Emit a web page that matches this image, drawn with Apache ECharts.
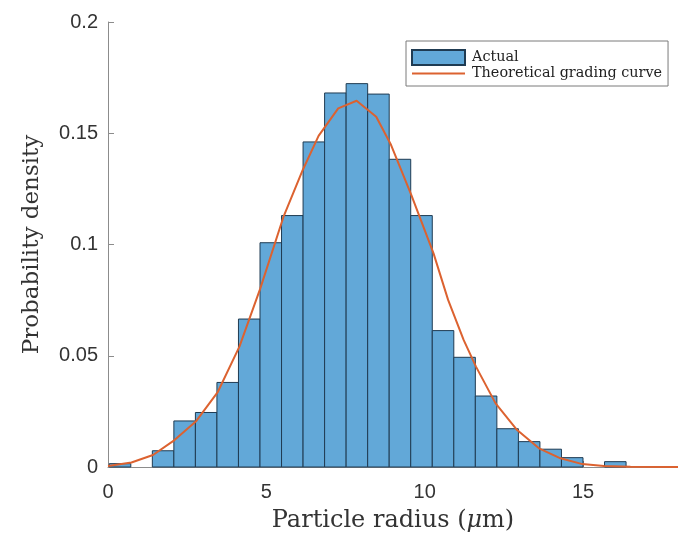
<!DOCTYPE html>
<html>
<head>
<meta charset="utf-8">
<script src="https://cdn.jsdelivr.net/npm/echarts@6/dist/echarts.min.js"></script>
<style>
  html, body { margin: 0; padding: 0; background: #fff; }
  #chart { width: 678px; height: 540px; }
</style>
</head>
<body>
<div id="chart"></div>
<script>
// Histogram bin edges (µm) and densities
const binEdges = [0.04, 0.72, 1.40, 2.08, 2.76, 3.44, 4.12, 4.80, 5.48, 6.16, 6.84, 7.52, 8.20,
                  8.88, 9.56, 10.24, 10.92, 11.60, 12.28, 12.96, 13.64, 14.32, 15.00, 15.68, 16.36];
const binDensity = [0.0015, 0, 0.0073, 0.0207, 0.0245, 0.038, 0.0665, 0.1008, 0.113, 0.1461, 0.1681, 0.1723,
                    0.1676, 0.1383, 0.113, 0.0613, 0.0493, 0.0319, 0.0172, 0.0114, 0.008, 0.0042, 0, 0.0024];

// Theoretical grading curve points
const curveX = [0, 0.74, 1.42, 2.10, 2.79, 3.47, 4.15, 4.81, 5.55, 6.15, 6.65, 7.27, 7.85, 8.47, 8.94,
                9.58, 10.28, 10.74, 11.23, 11.62, 12.24, 12.92, 13.61, 14.29, 14.98, 15.66, 16.5, 18];
const curveY = [0.0005, 0.002, 0.0054, 0.0121, 0.0207, 0.0338, 0.0541, 0.0803, 0.1128, 0.1335, 0.1488, 0.1612,
                0.1646, 0.1574, 0.1447, 0.1222, 0.096, 0.0751, 0.0571, 0.0451, 0.0286, 0.0166, 0.0084, 0.0039,
                0.0013, 0.0004, 0.0001, 0];

const xTicks = [0, 5, 10, 15];
const yTicks = [0, 0.05, 0.1, 0.15, 0.2];

const barData = binDensity.map((d, i) => [binEdges[i], binEdges[i + 1], d]);
const lineData = curveX.map((x, i) => [x, curveY[i]]);

const axisGray = '#8c8c8c';
const labelColor = '#333333';
const serif = '"DejaVu Serif", serif';
const barFill = '#62a8d8';
const barEdge = '#1f3b52';
const curveColor = '#dc6230';

const chart = echarts.init(document.getElementById('chart'), null, { renderer: 'canvas' });
chart.setOption({
  backgroundColor: '#ffffff',
  animation: false,
  grid: { left: 108, top: 22, right: -11, bottom: 73, containLabel: false },
  legend: {
    orient: 'vertical',
    left: 406,
    top: 41,
    padding: [8, 6, 5, 5],
    itemGap: 0,
    itemWidth: 53,
    itemHeight: 15,
    symbolKeepAspect: true,
    borderColor: '#7a7a7a',
    borderWidth: 1,
    backgroundColor: '#ffffff',
    textStyle: { fontFamily: serif, fontSize: 14.4, color: '#222', lineHeight: 15, padding: [0, 0, 0, 2] },
    data: [
      { name: 'Actual', icon: 'rect' },
      { name: 'Theoretical grading curve', icon: 'path://M0 0 H106 V4 H0 Z', itemStyle: { color: curveColor } }
    ]
  },
  xAxis: {
    type: 'value',
    min: 0,
    max: 18,
    interval: 5,
    name: 'Particle radius ({i|μ}m)',
    nameLocation: 'middle',
    nameGap: 42,
    nameTextStyle: {
      fontFamily: serif, fontSize: 24, color: '#333',
      rich: { i: { fontFamily: serif, fontStyle: 'italic', fontSize: 24, color: '#333' } }
    },
    axisLine: { show: true, lineStyle: { color: axisGray, width: 1 } },
    axisTick: { show: true, inside: true, length: 6, lineStyle: { color: axisGray } },
    axisLabel: {
      fontFamily: 'Liberation Sans, Arial, sans-serif', fontSize: 20, color: labelColor, margin: 15,
      showMaxLabel: false,
      formatter: v => (xTicks.indexOf(v) >= 0 ? String(v) : '')
    },
    splitLine: { show: false }
  },
  yAxis: {
    type: 'value',
    min: 0,
    max: 0.2,
    interval: 0.05,
    name: 'Probability density',
    nameLocation: 'middle',
    nameGap: 64,
    nameTextStyle: { fontFamily: serif, fontSize: 23, color: '#333' },
    axisLine: { show: true, lineStyle: { color: axisGray, width: 1 } },
    axisTick: { show: true, inside: true, length: 6, lineStyle: { color: axisGray } },
    axisLabel: {
      fontFamily: 'Liberation Sans, Arial, sans-serif', fontSize: 20, color: labelColor, margin: 10,
      formatter: v => {
        const t = yTicks.find(k => Math.abs(k - v) < 1e-9);
        return t === undefined ? '' : String(t);
      }
    },
    splitLine: { show: false }
  },
  series: [
    {
      name: 'Actual',
      type: 'custom',
      itemStyle: { color: barFill, borderColor: barEdge, borderWidth: 1 },
      encode: { x: [0, 1], y: 2 },
      data: barData,
      renderItem: function (params, api) {
        const h = api.value(2);
        if (!(h > 0)) return null;
        const p0 = api.coord([api.value(0), h]);
        const p1 = api.coord([api.value(1), 0]);
        return {
          type: 'rect',
          shape: { x: p0[0], y: p0[1], width: p1[0] - p0[0], height: p1[1] - p0[1] },
          style: { fill: barFill, stroke: barEdge, lineWidth: 1 }
        };
      },
      z: 2
    },
    {
      name: 'Theoretical grading curve',
      type: 'line',
      data: lineData,
      showSymbol: false,
      symbol: 'none',
      smooth: false,
      lineStyle: { color: curveColor, width: 2 },
      itemStyle: { color: curveColor },
      z: 3
    }
  ]
});
</script>
</body>
</html>
